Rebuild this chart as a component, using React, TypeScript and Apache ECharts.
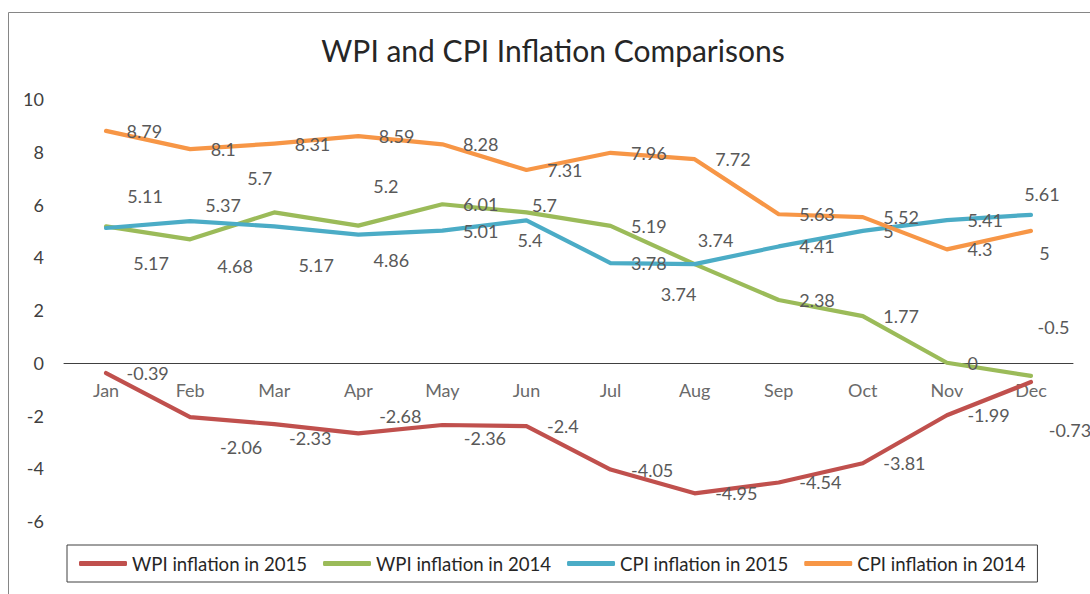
import React, { useEffect, useRef } from "react";
import * as echarts from "echarts";

const months = ["Jan", "Feb", "Mar", "Apr", "May", "Jun", "Jul", "Aug", "Sep", "Oct", "Nov", "Dec"];
const wpi2015 = [-0.39, -2.06, -2.33, -2.68, -2.36, -2.4, -4.05, -4.95, -4.54, -3.81, -1.99, -0.73];
const wpi2014 = [5.17, 4.68, 5.7, 5.2, 6.01, 5.7, 5.19, 3.74, 2.38, 1.77, 0, -0.5];
const cpi2015 = [5.11, 5.37, 5.17, 4.86, 5.01, 5.4, 3.78, 3.74, 4.41, 5, 5.41, 5.61];
const cpi2014 = [8.79, 8.1, 8.31, 8.59, 8.28, 7.31, 7.96, 7.72, 5.63, 5.52, 4.3, 5];
const seriesNames = ["WPI inflation in 2015", "WPI inflation in 2014", "CPI inflation in 2015", "CPI inflation in 2014"];
const titleText = "WPI and CPI Inflation Comparisons";

// label placement tweaks (offset of label centre from the point); null = to the right
type Shift = [number, number] | null;
const wpi2015Shift: Shift[] = [null, [51, 30], [36, 13.5], [42, -17], [42.5, 13], null, null, null, null, null, null, [39, 48]];
const wpi2014Shift: Shift[] = [[45, 36.5], [45, 27], [-14.5, -34.5], [27.5, -40], null, [18, -7.5], null, [-16, 30], null, null, null, [22.5, -48.5]];
const cpi2015Shift: Shift[] = [[39, -32], [33, -16], [42, 38.5], [33, 25], null, [3.5, 20], null, [21, -24], null, null, null, [11, -21]];
const cpi2014Shift: Shift[] = [null, null, null, null, null, null, null, null, null, null, null, [13.5, 22]];

const colors = ["#C0504D", "#9BBB59", "#4BACC6", "#F79646"];
const FONT = "Lato";

function buildData(values: number[], shifts: Shift[]) {
  return values.map((v, i) => {
    const s = shifts[i];
    return s ? { value: v, label: { position: "inside", offset: s } } : v;
  });
}

export default function App() {
  const ref = useRef<HTMLDivElement>(null);
  useEffect(() => {
    document.body.style.margin = "0";
    const chart = echarts.init(ref.current!, null, { renderer: "svg" });
    const all = [wpi2015, wpi2014, cpi2015, cpi2014];
    const shifts = [wpi2015Shift, wpi2014Shift, cpi2015Shift, cpi2014Shift];
    chart.setOption({
      animation: false,
      backgroundColor: "#ffffff",
      graphic: [
        {
          type: "rect",
          shape: { x: 8.5, y: 12.5, width: 1200, height: 700 },
          style: { fill: "none", stroke: "#868686", lineWidth: 1 },
          z: -1,
        },
        {
          type: "text",
          x: 553,
          y: 50,
          style: {
            text: titleText,
            font: `30px ${FONT}`,
            fill: "#262626",
            textAlign: "center",
            textVerticalAlign: "middle",
          },
        },
      ],
      grid: { left: 64, right: 17, top: 99, bottom: 73, containLabel: false },
      legend: {
        data: seriesNames,
        left: 67,
        top: 545,
        padding: [9, 12, 9, 12],
        borderColor: "#404040",
        borderWidth: 1,
        itemGap: 16,
        itemWidth: 48,
        itemHeight: 5,
        icon: "roundRect",
        textStyle: { fontFamily: FONT, fontSize: 18.6, color: "#262626" },
      },
      xAxis: {
        type: "category",
        data: months,
        boundaryGap: true,
        offset: -158,
        axisLine: { onZero: false, lineStyle: { color: "#404040", width: 1 } },
        axisTick: { show: false },
        axisLabel: { color: "#6a6a6a", fontFamily: FONT, fontSize: 18, margin: 18 },
        splitLine: { show: false },
      },
      yAxis: {
        type: "value",
        min: -6,
        max: 10,
        interval: 2,
        axisLine: { show: false },
        axisTick: { show: false },
        splitLine: { show: false },
        axisLabel: { color: "#404040", fontFamily: FONT, fontSize: 18, margin: 20 },
      },
      series: all.map((vals, k) => ({
        name: seriesNames[k],
        type: "line",
        data: buildData(vals, shifts[k]),
        symbol: "circle",
        symbolSize: 1,
        showSymbol: true,
        itemStyle: { color: colors[k] },
        lineStyle: { color: colors[k], width: 4.2, cap: "round", join: "round" },
        label: {
          show: true,
          position: "right",
          distance: 20,
          color: "#595959",
          fontFamily: FONT,
          fontSize: 18,
        },
        emphasis: { disabled: true },
        z: 2 + k,
      })),
    });
    return () => chart.dispose();
  }, []);
  return <div ref={ref} style={{ width: 1090, height: 594 }} />;
}
